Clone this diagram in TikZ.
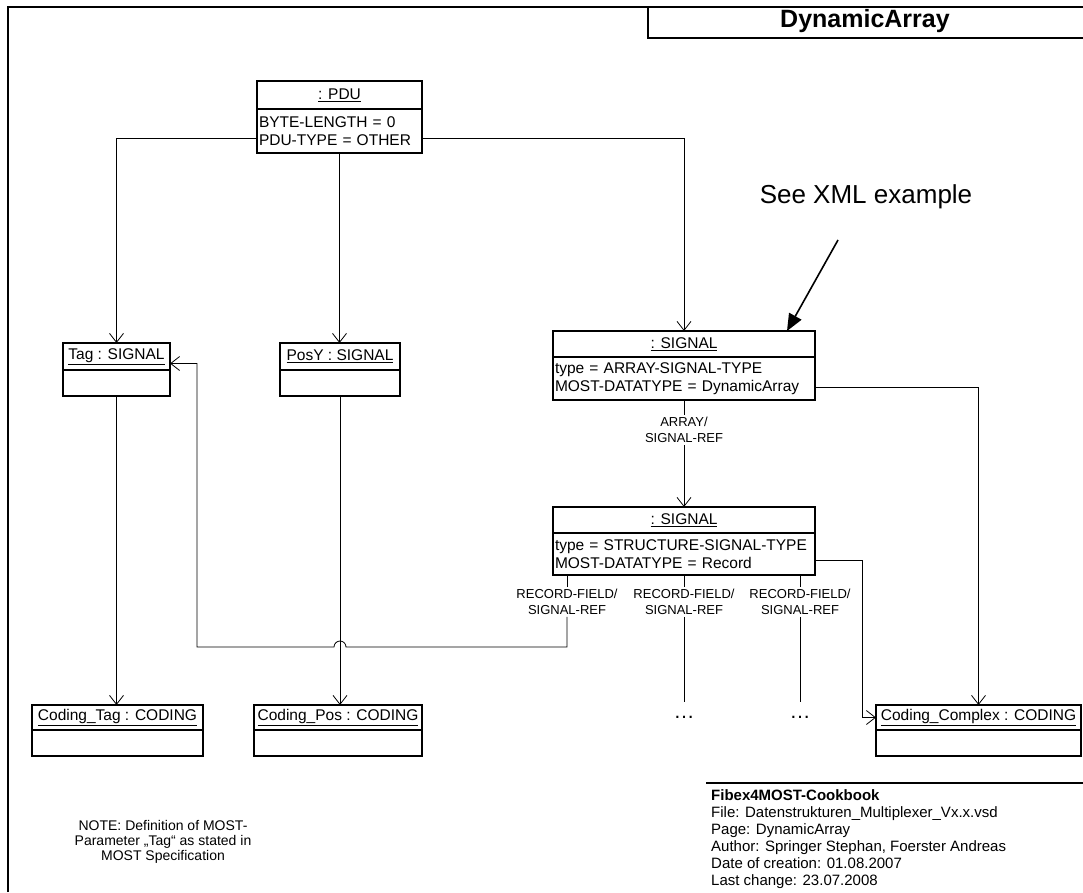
\documentclass[tikz,border=0pt]{standalone}
\usepackage{fontspec}
\setmainfont{Liberation Sans}
\usetikzlibrary{arrows.meta}

\begin{document}
\begin{tikzpicture}[x=1pt,y=-1pt,
    box/.style={draw, line width=1.2pt, outer sep=0pt, anchor=north west,
      font=\fontsize{15.5}{18}\selectfont},
    head/.style={box, inner xsep=0pt, inner ysep=2pt},
    body/.style={box, inner sep=2pt, align=left},
    conn/.style={line width=0.8pt, -{Straight Barb[length=9pt,width=14pt]}},
    link/.style={line width=0.8pt},
    role/.style={font=\fontsize{13}{16}\selectfont, align=center, inner sep=2pt},
    more/.style={minimum height=30pt, font=\fontsize{21}{24}\selectfont}]

    \useasboundingbox (0,0) rectangle (1083,892);

    % Draw the page frame and the title box
    \draw[line width=1.2pt] (8,892) -- (8,7) -- (1083,7);
    \draw[line width=1.2pt] (648,7) -- (648,38) -- (1083,38);
    \node[font=\bfseries\fontsize{25}{28}\selectfont] (title) at (865,21) {DynamicArray};

    % Objects: a header node and a body node each
    \node[head, minimum width=165pt, minimum height=28pt] (pduh) at (257,81) {\underline{: PDU}};
    \node[body, text width=161pt, minimum height=44pt] (pdub) at (pduh.south west) {BYTE-LENGTH = 0\\PDU-TYPE = OTHER};

    \node[head, minimum width=107pt, minimum height=27pt] (tagh) at (63,343) {\underline{Tag : SIGNAL}};
    \node[body, minimum width=107pt, minimum height=26pt] (tagb) at (tagh.south west) {};

    \node[head, minimum width=120pt, minimum height=27pt] (posyh) at (280,343) {\underline{PosY : SIGNAL}};
    \node[body, minimum width=120pt, minimum height=26pt] (posyb) at (posyh.south west) {};

    \node[head, minimum width=262pt, minimum height=26pt] (sig1h) at (553,331) {\underline{: SIGNAL}};
    \node[body, text width=258pt, minimum height=43pt] (sig1b) at (sig1h.south west) {type = ARRAY-SIGNAL-TYPE\\MOST-DATATYPE = DynamicArray};

    \node[head, minimum width=262pt, minimum height=26pt] (sig2h) at (553,507) {\underline{: SIGNAL}};
    \node[body, text width=258pt, minimum height=42pt] (sig2b) at (sig2h.south west) {type = STRUCTURE-SIGNAL-TYPE\\MOST-DATATYPE = Record};

    \node[head, minimum width=171pt, minimum height=25pt] (codtagh) at (32,705) {\underline{Coding\_Tag : CODING}};
    \node[body, minimum width=171pt, minimum height=26pt] (codtagb) at (codtagh.south west) {};

    \node[head, minimum width=168pt, minimum height=25pt] (codposh) at (254,705) {\underline{Coding\_Pos : CODING}};
    \node[body, minimum width=168pt, minimum height=26pt] (codposb) at (codposh.south west) {};

    \node[head, minimum width=205pt, minimum height=25pt] (codcxh) at (876,705) {\underline{Coding\_Complex : CODING}};
    \node[body, minimum width=205pt, minimum height=26pt] (codcxb) at (codcxh.south west) {};

    % Role labels and open ends
    \node[role] (arr) at (684,430) {ARRAY/\\SIGNAL-REF};
    \node[role] (rf1) at (567,602) {RECORD-FIELD/\\SIGNAL-REF};
    \node[role] (rf2) at (684,602) {RECORD-FIELD/\\SIGNAL-REF};
    \node[role] (rf3) at (800,602) {RECORD-FIELD/\\SIGNAL-REF};
    \node[more] (dots2) at (684,717) {…};
    \node[more] (dots3) at (800,717) {…};

    % Connectors from the PDU
    \draw[conn] ([yshift=-7pt]pdub.west) -| (tagh.north);
    \draw[conn] (pdub.south) -- (pdub.south |- posyh.north);
    \draw[conn] ([yshift=-7pt]pdub.east) -| (sig1h.north);

    % Array signal
    \draw[link] (sig1b.south) -- (arr.north);
    \draw[conn] (arr.south) -- (sig2h.north);
    \draw[conn] ([yshift=-9pt]sig1b.east) -| (codcxh.north);

    % Record fields
    \draw[link] (sig2b.south -| rf1.north) -- (rf1.north);
    \draw[conn] (rf1.south) |- (346,647) arc[start angle=0, end angle=-180, radius=6]
        -- (197,647) |- ([yshift=-7pt]tagh.east);
    \draw[link] (sig2b.south -| rf2.north) -- (rf2.north);
    \draw[link] (rf2.south) -- (dots2.north);
    \draw[link] (sig2b.south -| rf3.north) -- (rf3.north);
    \draw[link] (rf3.south) -- (dots3.north);
    \draw[conn] ([yshift=-6pt]sig2b.east) -- ++(47,0) |- (codcxh.west);

    % Codings
    \draw[conn] (tagb.south) -- (tagb.south |- codtagh.north);
    \draw[conn] (posyb.south) -- (posyb.south |- codposh.north);

    % Pointer to the XML example
    \node[font=\fontsize{26}{29}\selectfont] (xml) at (866,197) {See XML example};
    \coordinate (xmltail) at (838,240);
    \draw[line width=1.6pt, -{Triangle[length=17pt,width=14pt]}] (xmltail) -- ([xshift=-28pt]sig1h.north east);

    % Note and info block
    \node[font=\fontsize{14}{15}\selectfont, align=center] (note) at (163,842)
        {NOTE: Definition of MOST-\\Parameter „Tag“ as stated in\\MOST Specification};
    \draw[line width=1.2pt] (706,783) -- (1083,783);
    \node[anchor=north west, align=left, inner sep=0pt, font=\fontsize{15}{17}\selectfont] (info) at (711,789)
        {\textbf{Fibex4MOST-Cookbook}\\
         File: Datenstrukturen\_Multiplexer\_Vx.x.vsd\\
         Page: DynamicArray\\
         Author: Springer Stephan, Foerster Andreas\\
         Date of creation: 01.08.2007\\
         Last change: 23.07.2008};
\end{tikzpicture}
\end{document}
